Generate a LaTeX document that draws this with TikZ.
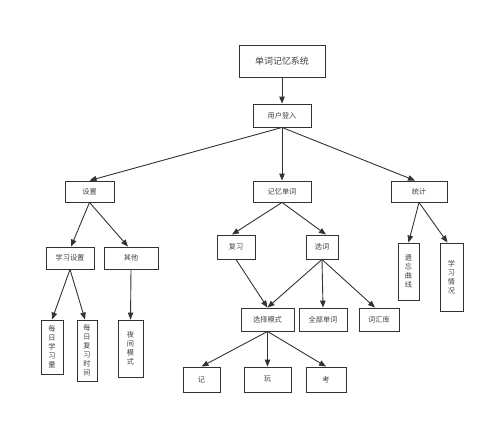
\documentclass[tikz,border=0pt]{standalone}
\usepackage{fontspec}
\newfontfamily\cjk{Noto Sans CJK SC}
\usepackage{tikz}
\usetikzlibrary{arrows.meta}

\begin{document}
\begin{tikzpicture}[x=1bp, y=-1bp,
	box/.style={draw=black!80, line width=0.9pt, inner sep=0pt, font=\cjk\fontsize{7.2}{9}\selectfont, text=black!75},
	vbox/.style={box, align=center},
	wire/.style={draw=black!80, line width=0.9pt, -{Triangle[length=7bp, width=5.5bp]}}]
	\useasboundingbox (0, 0) rectangle (499, 428);
	% Nodes:
	\node[box, minimum width=86bp, minimum height=32bp, font=\cjk\fontsize{9}{10}\selectfont](SYS) at (282, 61){单词记忆系统};
	\node[box, minimum width=58bp, minimum height=23bp](LOGIN) at (282, 115.5){用户登入};
	\node[box, minimum width=49bp, minimum height=21bp](SET) at (89.5, 191.5){设置};
	\node[box, minimum width=58bp, minimum height=21bp](MEM) at (282, 191.5){记忆单词};
	\node[box, minimum width=56bp, minimum height=21bp](STAT) at (419, 191.5){统计};
	\node[box, minimum width=48bp, minimum height=22bp](STUDYSET) at (70, 258){学习设置};
	\node[box, minimum width=54bp, minimum height=22bp](OTHER) at (131, 258){其他};
	\node[vbox, minimum width=22bp, minimum height=54bp](DAILYNEW) at (52, 347){每\\日\\学\\习\\量};
	\node[vbox, minimum width=20bp, minimum height=61bp](DAILYREV) at (87, 350.5){每\\日\\复\\习\\时\\间};
	\node[vbox, minimum width=25bp, minimum height=57bp](NIGHT) at (130.5, 348.5){夜\\间\\模\\式};
	\node[box, minimum width=38bp, minimum height=24bp](REVIEW) at (236, 247){复习};
	\node[box, minimum width=32bp, minimum height=24bp](PICK) at (322, 247){选词};
	\node[box, minimum width=53bp, minimum height=23bp](MODE) at (267.5, 319.5){选择模式};
	\node[box, minimum width=48bp, minimum height=23bp](ALL) at (323, 319.5){全部单词};
	\node[box, minimum width=40bp, minimum height=23bp](LIB) at (379, 319.5){词汇库};
	\node[vbox, minimum width=21bp, minimum height=57bp](CURVE) at (408.5, 271.5){遗\\忘\\曲\\线};
	\node[vbox, minimum width=23bp, minimum height=68bp](STATUS) at (451.5, 277){学\\习\\情\\况};
	\node[box, minimum width=37bp, minimum height=25bp](REMEMBER) at (201.5, 379.5){记};
	\node[box, minimum width=47bp, minimum height=25bp](PLAY) at (267.5, 379.5){玩};
	\node[box, minimum width=40bp, minimum height=25bp](TEST) at (326, 379.5){考};
	% Wires:
	\draw[wire] (SYS.south) -- (LOGIN.north);
	\draw[wire] (LOGIN.south) -- (SET.north);
	\draw[wire] (LOGIN.south) -- (MEM.north);
	\draw[wire] (LOGIN.south) -- ([xshift=-4bp]STAT.north);
	\draw[wire] (SET.south) -- ([xshift=1bp]STUDYSET.north);
	\draw[wire] (SET.south) -- ([xshift=-3bp]OTHER.north);
	\draw[wire] (STUDYSET.south) -- (DAILYNEW.north);
	\draw[wire] (STUDYSET.south) -- ([xshift=-2bp]DAILYREV.north);
	\draw[wire] (OTHER.south) -- (NIGHT.north);
	\draw[wire] (MEM.south) -- ([xshift=-4bp]REVIEW.north);
	\draw[wire] (MEM.south) -- ([xshift=4bp]PICK.north);
	\draw[wire] (REVIEW.south) -- (MODE.north);
	\draw[wire] (PICK.south) -- (MODE.north);
	\draw[wire] (PICK.south) -- (ALL.north);
	\draw[wire] (PICK.south) -- ([xshift=-4bp]LIB.north);
	\draw[wire] (STAT.south) -- (CURVE.north);
	\draw[wire] (STAT.south) -- ([xshift=-4bp]STATUS.north);
	\draw[wire] (MODE.south) -- (REMEMBER.north);
	\draw[wire] (MODE.south) -- (PLAY.north);
	\draw[wire] (MODE.south) -- (TEST.north);
\end{tikzpicture}
\end{document}
